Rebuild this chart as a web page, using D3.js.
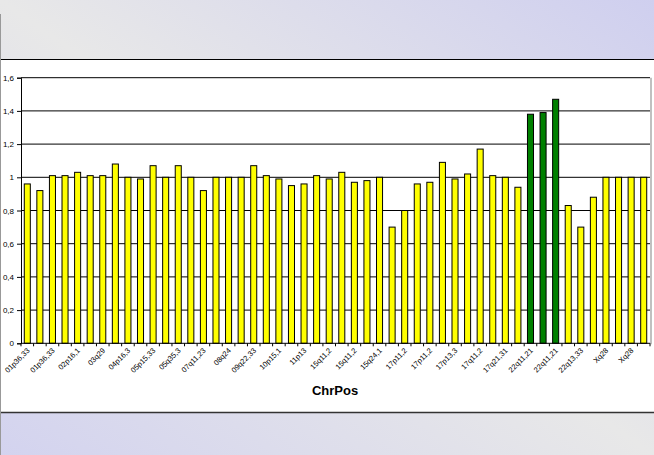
<!DOCTYPE html>
<html lang="de">
<head>
	<meta charset="UTF-8">
	<title>ChrPos</title>
	<script src="https://d3js.org/d3.v7.min.js"></script>
	<style>
		body { margin: 0; }
		svg { display: block; font-family: Arial, "Liberation Sans", sans-serif; }
	</style>
</head>
<body>
	<svg id="chart" width="654" height="455"></svg>
	<script>
		// Werte pro Balken (50 Positionen)
		const ratios = [0.96, 0.92, 1.01, 1.01, 1.03, 1.01, 1.01, 1.08, 1.00, 0.99,
			1.07, 1.00, 1.07, 1.00, 0.92, 1.00, 1.00, 1.00, 1.07, 1.01,
			0.99, 0.95, 0.96, 1.01, 0.99, 1.03, 0.97, 0.98, 1.00, 0.70,
			0.80, 0.96, 0.97, 1.09, 0.99, 1.02, 1.17, 1.01, 1.00, 0.94,
			1.38, 1.39, 1.47, 0.83, 0.70, 0.88, 1.00, 1.00, 1.00, 1.00];
		// nur jede zweite Position ist beschriftet
		const tickLabels = ["01p36,33", "01p36,33", "02p16,1", "03q29", "04p16,3", "05p15,33",
			"05q35,3", "07q11,23", "08q24", "09q22,33", "10p15,1", "11p13", "15q11,2",
			"15q11,2", "15q24,1", "17p11,2", "17p11,2", "17p13,3", "17q11,2", "17q21,31",
			"22q11,21", "22q11,21", "22q13,33", "Xq28", "Xq28"];
		const greenBars = [40, 41, 42];
		const yTicks = [0, 0.2, 0.4, 0.6, 0.8, 1, 1.2, 1.4, 1.6];

		const svg = d3.select("#chart");
		const W = 654, H = 455;

		// Hintergrund mit Verlauf
		const defs = svg.append("defs");
		const grad = defs.append("linearGradient").attr("id", "bg")
			.attr("x1", 1).attr("y1", 0).attr("x2", 0).attr("y2", 1);
		grad.append("stop").attr("offset", 0).attr("stop-color", "#cfcfef");
		grad.append("stop").attr("offset", 0.5).attr("stop-color", "#e8e8e8");
		grad.append("stop").attr("offset", 1).attr("stop-color", "#d3d3ef");
		svg.append("rect").attr("width", W).attr("height", H).attr("fill", "url(#bg)");

		// weisses Feld
		svg.append("rect").attr("x", 0).attr("y", 59.5).attr("width", W).attr("height", 353)
			.attr("fill", "#fff");
		svg.append("line").attr("x1", 0).attr("x2", W).attr("y1", 59.5).attr("y2", 59.5)
			.attr("stroke", "#000");
		svg.append("line").attr("x1", 0).attr("x2", W).attr("y1", 412.5).attr("y2", 412.5)
			.attr("stroke", "#333").attr("stroke-width", 1.5);
		svg.append("line").attr("x1", 0.5).attr("x2", 0.5).attr("y1", 14).attr("y2", H)
			.attr("stroke", "#999");

		const plotLeft = 21, plotRight = 650, plotTop = 77.7, plotBottom = 343.3;

		const x = d3.scaleBand()
			.domain(d3.range(ratios.length))
			.range([plotLeft, plotRight])
			.paddingInner(0.52)
			.paddingOuter(0.26);

		const y = d3.scaleLinear().domain([0, 1.6]).range([plotBottom, plotTop]);

		// Gitterlinien
		svg.append("g").selectAll("line")
			.data(yTicks.filter(d => d > 0))
			.join("line")
			.attr("x1", plotLeft).attr("x2", plotRight)
			.attr("y1", d => y(d)).attr("y2", d => y(d))
			.attr("stroke", "#000").attr("stroke-width", 1);

		// rechter Rand
		svg.append("line").attr("x1", plotRight + 1).attr("x2", plotRight + 1)
			.attr("y1", plotTop).attr("y2", plotBottom + 1)
			.attr("stroke", "#c0c0c0").attr("stroke-width", 2);

		// Balken
		svg.append("g").selectAll("rect")
			.data(ratios)
			.join("rect")
			.attr("x", (d, i) => x(i))
			.attr("y", d => y(d))
			.attr("width", x.bandwidth())
			.attr("height", d => y(0) - y(d))
			.attr("fill", (d, i) => greenBars.includes(i) ? "#008000" : "#ffff00")
			.attr("stroke", "#000")
			.attr("stroke-width", 1);

		// Y-Achse
		const yAxis = d3.axisLeft(y)
			.tickValues(yTicks)
			.tickSize(4)
			.tickPadding(3)
			.tickFormat(d => String(+d.toFixed(1)).replace(".", ","));
		const gy = svg.append("g").attr("transform", `translate(${plotLeft},0)`).call(yAxis);
		gy.select(".domain").attr("stroke", "#000");
		gy.selectAll("text").attr("font-size", 8).attr("fill", "#000")
			.attr("font-family", "Arial, 'Liberation Sans', sans-serif");

		// X-Achse: Striche an den Kategoriegrenzen
		const step = x.step();
		const boundaries = d3.range(ratios.length + 1).map(i =>
			i === 0 ? plotLeft : (i === ratios.length ? plotRight : x(i) - step * x.paddingInner() / 2));
		const gx = svg.append("g");
		gx.append("line").attr("x1", plotLeft).attr("x2", plotRight)
			.attr("y1", plotBottom).attr("y2", plotBottom).attr("stroke", "#000");
		gx.selectAll("line.tick")
			.data(boundaries)
			.join("line").attr("class", "tick")
			.attr("x1", d => d).attr("x2", d => d)
			.attr("y1", plotBottom).attr("y2", plotBottom + 3)
			.attr("stroke", "#000");

		gx.selectAll("text")
			.data(tickLabels)
			.join("text")
			.attr("transform", (d, i) => {
				const cx = x(i * 2) + x.bandwidth() / 2;
				return `translate(${cx + 1},${plotBottom + 6}) rotate(-45)`;
			})
			.attr("text-anchor", "end")
			.attr("dy", "0.35em")
			.attr("font-size", 7.5)
			.attr("fill", "#000")
			.text(d => d);

		// Achsentitel
		svg.append("text")
			.attr("x", 335).attr("y", 395)
			.attr("text-anchor", "middle")
			.attr("font-size", 13)
			.attr("font-weight", "bold")
			.text("ChrPos");
	</script>
</body>
</html>
